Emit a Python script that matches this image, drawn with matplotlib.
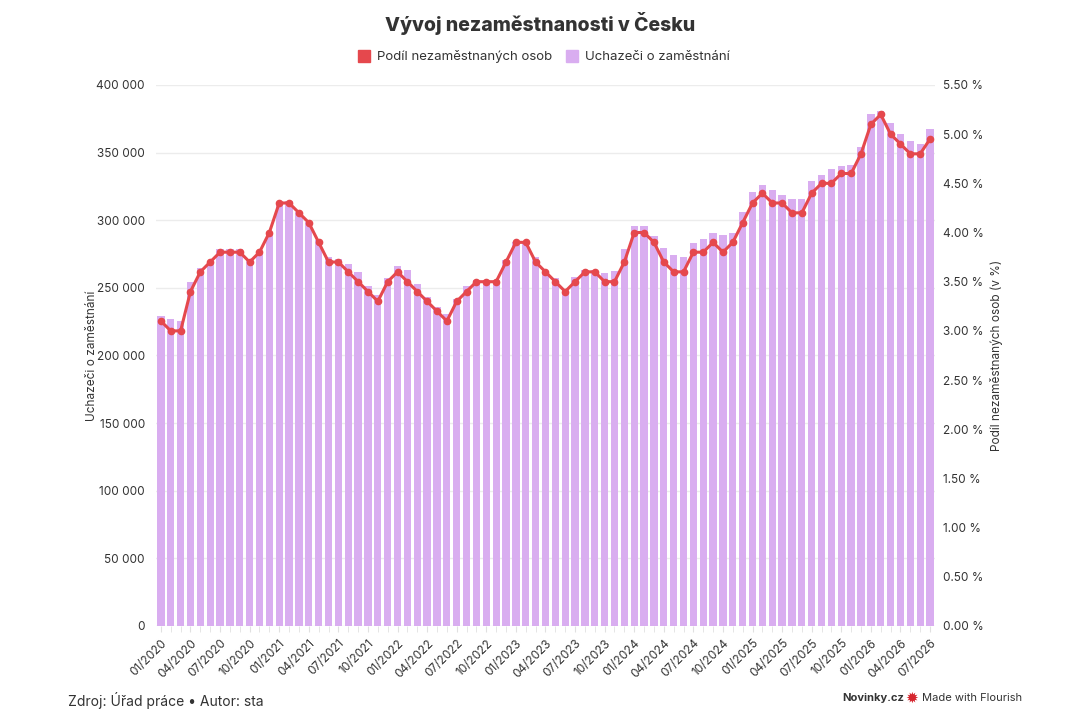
import matplotlib
matplotlib.use("Agg")
import matplotlib.pyplot as plt
from matplotlib.ticker import FuncFormatter, MultipleLocator
from matplotlib.lines import Line2D

plt.rcParams["font.family"] = ["Inter", "DejaVu Sans"]

# monthly data 01/2020 .. 07/2026
months = [f"{m:02d}/{y}" for y in range(2020, 2027) for m in range(1, 13)][:79]

uchazeci = [
    229000, 227000, 225500, 254000, 265000, 270000, 279000, 278500, 278500, 270500, 276000, 289000,
    313000, 314000, 306000, 299000, 285500, 273000, 271000, 267500, 262000, 251000, 245000, 257000,
    266000, 263000, 253000, 243000, 236000, 231000, 241500, 251500, 255800, 255800, 255800, 270600,
    284000, 284000, 273000, 262500, 257500, 249000, 258000, 263000, 263000, 260800, 262500, 278500,
    295800, 296000, 288000, 279700, 274000, 272600, 283000, 286000, 290800, 289000, 290300, 306000,
    320700, 326000, 322000, 318700, 316000, 315500, 329000, 333500, 338000, 340000, 341000, 354000,
    378600, 380800, 372000, 364000, 358800, 356400, 367500,
]

podil = [
    3.1, 3.0, 3.0, 3.4, 3.6, 3.7, 3.8, 3.8, 3.8, 3.7, 3.8, 4.0,
    4.3, 4.3, 4.2, 4.1, 3.9, 3.7, 3.7, 3.6, 3.5, 3.4, 3.3, 3.5,
    3.6, 3.5, 3.4, 3.3, 3.2, 3.1, 3.3, 3.4, 3.5, 3.5, 3.5, 3.7,
    3.9, 3.9, 3.7, 3.6, 3.5, 3.4, 3.5, 3.6, 3.6, 3.5, 3.5, 3.7,
    4.0, 4.0, 3.9, 3.7, 3.6, 3.6, 3.8, 3.8, 3.9, 3.8, 3.9, 4.1,
    4.3, 4.4, 4.3, 4.3, 4.2, 4.2, 4.4, 4.5, 4.5, 4.6, 4.6, 4.8,
    5.1, 5.2, 5.0, 4.9, 4.8, 4.8, 4.95,
]

BAR_COLOR = "#d9adf0"
LINE_COLOR = "#e5484d"
TEXT = "#333333"

fig = plt.figure(figsize=(10.8, 7.2), dpi=100)
ax = fig.add_axes([0.1444, 0.1306, 0.7213, 0.7514])
ax2 = ax.twinx()

x = list(range(len(months)))
ax.bar(x, uchazeci, width=0.74, color=BAR_COLOR, zorder=2)
ax2.plot(x, podil, "-o", color=LINE_COLOR, lw=2.2, markersize=4.5, zorder=3)

ax.set_xlim(-0.5, len(months) - 0.5)
ax.set_ylim(0, 400000)
ax2.set_ylim(0, 5.5)

ax.yaxis.set_major_locator(MultipleLocator(50000))
ax.yaxis.set_major_formatter(FuncFormatter(lambda v, p: f"{int(v):,}".replace(",", " ")))
ax2.yaxis.set_major_locator(MultipleLocator(0.5))
ax2.yaxis.set_major_formatter(FuncFormatter(lambda v, p: f"{v:.2f} %"))

ax.grid(axis="y", color="#ececec", lw=1, zorder=0)
ax.set_axisbelow(True)
for a in (ax, ax2):
    for s in a.spines.values():
        s.set_visible(False)

ax.set_xticks(x[::3])
ax.set_xticklabels(months[::3], rotation=45, ha="right", rotation_mode="anchor",
                   fontsize=8.5, color=TEXT)
ax.set_xticks(x, minor=True)
ax.tick_params(axis="x", which="both", length=4, color="#e0e0e0", pad=4)
ax.tick_params(axis="y", length=0, labelsize=8.5, labelcolor=TEXT, pad=8)
ax2.tick_params(axis="y", length=0, labelsize=8.5, labelcolor=TEXT, pad=6)

ax.set_ylabel("Uchazeči o zaměstnání", fontsize=8.5, color=TEXT, labelpad=-1)
ax2.set_ylabel("Podíl nezaměstnaných osob (v %)", fontsize=8.5, color=TEXT, labelpad=4)

fig.text(0.5, 0.968, "Vývoj nezaměstnanosti v Česku", ha="center", va="center",
         fontsize=14, fontweight="heavy", color=TEXT)

handles = [
    Line2D([], [], marker="s", ls="", color=LINE_COLOR, markersize=9),
    Line2D([], [], marker="s", ls="", color=BAR_COLOR, markersize=9),
]
fig.legend(handles, ["Podíl nezaměstnaných osob", "Uchazeči o zaměstnání"],
           loc="center", bbox_to_anchor=(0.5, 0.921), ncol=2, frameon=False,
           fontsize=9.5, handletextpad=0.0, columnspacing=0.5, labelcolor=TEXT)

fig.text(0.063, 0.027, "Zdroj: Úřad práce • Autor: sta", fontsize=10, color=TEXT,
         ha="left", va="center")
fig.text(0.78, 0.03, "Novinky.cz", fontsize=8, fontweight="bold", color=TEXT,
         ha="left", va="center")
fig.text(0.838, 0.03, "✹", family=["DejaVu Sans"], fontsize=11, color="#d6262f",
         ha="left", va="center")
fig.text(0.854, 0.03, "Made with Flourish", fontsize=8, color=TEXT,
         ha="left", va="center")

fig.savefig("out.png", dpi=100)
